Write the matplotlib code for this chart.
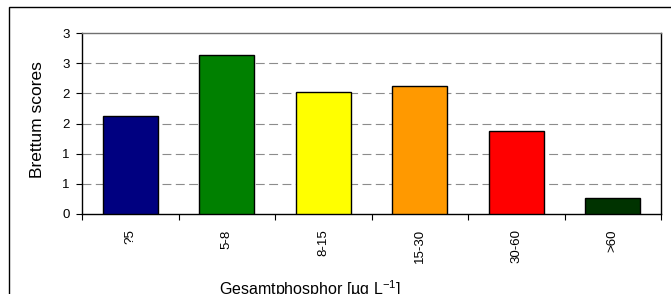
import matplotlib
matplotlib.use("Agg")
import matplotlib.pyplot as plt
from matplotlib.patches import Rectangle
from matplotlib.ticker import FixedLocator, FuncFormatter
import numpy as np

plt.rcParams['font.family'] = ['Liberation Sans', 'DejaVu Sans']

## the data
classes = ["?5", "5-8", "8-15", "15-30", "30-60", ">60"]
scores = [1.62, 2.63, 2.03, 2.12, 1.37, 0.27]
colours = ["#000080", "#008000", "#FFFF00", "#FF9900", "#FF0000", "#003300"]
y_ticks = [0, 0.5, 1, 1.5, 2, 2.5, 3]

W, H = 671, 294
fig = plt.figure(figsize=(W / 100, H / 100), dpi=100)
ax = fig.add_axes([82 / W, 1 - 214 / H, (661 - 82) / W, (214 - 33) / H])

x = np.arange(len(classes))
ax.bar(x, scores, width=0.57, color=colours, edgecolor="black", linewidth=1.0, zorder=3)

ax.set_xlim(-0.5, len(classes) - 0.5)
ax.set_ylim(0, 3)

##grid lines dashed grey like excel
for v in y_ticks[1:-1]:
    ax.axhline(v, color="#8c8c8c", linewidth=0.8, linestyle=(0, (8, 4)), zorder=1)

##excel rounds the tick labels so 0.5 shows as 1 etc
ax.yaxis.set_major_locator(FixedLocator(y_ticks))
ax.yaxis.set_major_formatter(FuncFormatter(lambda v, p: "%d" % int(np.floor(v + 0.5))))
ax.tick_params(axis="y", direction="out", length=4, width=0.8, pad=5, labelsize=9.5)

ax.set_xticks(x)
ax.set_xticklabels(classes, rotation=90, va="top", ha="center")
ax.set_xticks(np.arange(len(classes) + 1) - 0.5, minor=True)
ax.tick_params(axis="x", which="major", length=0, pad=11, labelsize=9.5)
ax.tick_params(axis="x", which="minor", direction="out", length=4, width=0.8)

for s in ["left", "bottom", "right"]:
    ax.spines[s].set_color("black")
    ax.spines[s].set_linewidth(1.0)
ax.spines["top"].set_color("#707070")
ax.spines["top"].set_linewidth(1.0)

fig.text(38 / W, 1 - 120 / H, "Brettum scores", rotation=90, ha="center", va="center", fontsize=12.5)
fig.text(310 / W, 1 - 289 / H, r"Gesamtphosphor [µg L$^{\mathregular{-1}}$]", ha="center", va="center", fontsize=11.5)

##outer chart frame
fig.add_artist(Rectangle((8.5 / W, -0.1), 1.2, 1 - 6.5 / H + 0.1, transform=fig.transFigure,
                         fill=False, edgecolor="black", linewidth=1.0))

fig.savefig("out.png", dpi=100)
